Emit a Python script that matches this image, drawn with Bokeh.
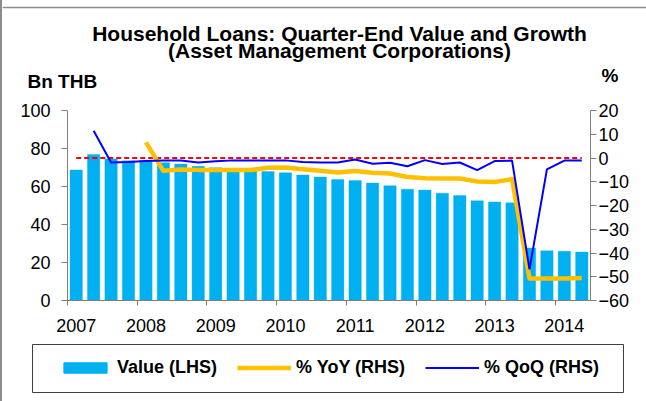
from bokeh.plotting import figure
from bokeh.layouts import column
from bokeh.models import (Range1d, LinearAxis, FixedTicker, Legend, LegendItem,
                          ColumnDataSource, NumeralTickFormatter)
from bokeh.core.properties import value
from bokeh.embed import file_html
from bokeh.resources import INLINE

# ---------------- data ----------------
quarters = ["2007Q1", "2007Q2", "2007Q3", "2007Q4",
            "2008Q1", "2008Q2", "2008Q3", "2008Q4",
            "2009Q1", "2009Q2", "2009Q3", "2009Q4",
            "2010Q1", "2010Q2", "2010Q3", "2010Q4",
            "2011Q1", "2011Q2", "2011Q3", "2011Q4",
            "2012Q1", "2012Q2", "2012Q3", "2012Q4",
            "2013Q1", "2013Q2", "2013Q3", "2013Q4",
            "2014Q1", "2014Q2"]
loan_value = [68.7, 76.8, 74.5, 73.5, 73.8, 72.5, 71.8, 70.6,
              69.9, 69.2, 68.6, 67.9, 67.2, 66.0, 65.0, 63.7,
              63.2, 61.8, 60.4, 58.6, 58.1, 56.5, 55.3, 52.5,
              51.9, 51.4, 27.6, 26.2, 25.9, 25.5]
nan = float("nan")
yoy_pct = [nan, nan, nan, nan,
           6.6, -5.4, -4.8, -5.0, -5.0, -5.0, -5.1, -4.1,
           -4.0, -4.7, -5.4, -6.1, -5.5, -6.2, -6.5, -8.0,
           -8.5, -8.6, -8.6, -9.9, -10.1, -8.9, -50.7, -50.7,
           -50.7, -50.5]
qoq_pct = [nan,
           11.5, -1.9, -1.7, -1.3, -1.1, -1.1, -1.9, -1.4,
           -1.0, -1.0, -1.1, -1.0, -1.7, -1.9, -1.9, -0.6,
           -2.4, -2.0, -3.5, -0.9, -2.5, -1.9, -5.1, -1.3,
           -1.1, -46.9, -4.8, -1.1, -1.1]
zero_ref = [0, 0]
years = [2007, 2008, 2009, 2010, 2011, 2012, 2013, 2014]
left_ticks = [0, 20, 40, 60, 80, 100]
right_ticks = [-60, -50, -40, -30, -20, -10, 0, 10, 20]

title_1 = "Household Loans: Quarter-End Value and Growth"
title_2 = "(Asset Management Corporations)"
left_unit = "Bn THB"
right_unit = "%"
series_names = ["Value (LHS)", "% YoY (RHS)", "% QoQ (RHS)"]

BAR_COL = "#00B0F0"
YOY_COL = "#FFC000"
QOQ_COL = "#0000FF"
FONT = "Liberation Sans"
AXIS_COL = "#808080"
W = 644  # column has a 2px left border


def no_align(fig):
    try:
        fig.frame_align = False
    except Exception as exc:  # older bokeh
        print("frame_align not available:", exc)


# quarter -> position in years (centre of quarter)
xpos = [int(q[:4]) + (int(q[-1]) - 0.5) / 4 for q in quarters]
src = ColumnDataSource(dict(x=xpos, value=loan_value, yoy=yoy_pct, qoq=qoq_pct))

# ---------------- header (titles) ----------------
hdr = figure(width=W, height=98, output_backend="svg", toolbar_location=None,
             x_range=Range1d(2, 646), y_range=Range1d(98, 0),
             x_axis_location=None, y_axis_location=None, min_border=0)
no_align(hdr)
hdr.xgrid.visible = False
hdr.ygrid.visible = False
hdr.outline_line_color = None
hdr.text(x=[339, 339], y=[32.5, 50], text=[title_1, title_2],
         text_align="center", text_baseline="alphabetic",
         text_font=value(FONT), text_font_style="bold",
         text_font_size="21px", text_color="black")
hdr.text(x=[27], y=[81], text=[left_unit], text_align="left",
         text_baseline="alphabetic", text_font=value(FONT),
         text_font_style="bold", text_font_size="19px", text_color="black")
hdr.text(x=[601], y=[75], text=[right_unit], text_align="left",
         text_baseline="alphabetic", text_font=value(FONT),
         text_font_style="bold", text_font_size="19px", text_color="black")
hdr.line(x=[2, 646], y=[7, 7], line_color="#8c8c8c", line_width=1.5)

# ---------------- main chart ----------------
p = figure(width=W, height=238, output_backend="svg", toolbar_location=None,
           x_range=Range1d(2007, 2014.5), y_range=Range1d(0, 100),
           x_axis_location=None, y_axis_location="left",
           min_border_left=65, min_border_right=56,
           min_border_top=12, min_border_bottom=36)
no_align(p)
p.extra_y_ranges = {"pct": Range1d(-60, 20)}
p.xgrid.visible = False
p.ygrid.visible = False
p.outline_line_color = None

la = p.yaxis[0]
la.ticker = FixedTicker(ticks=left_ticks)
la.major_tick_out = 6
la.major_tick_in = 0
la.minor_tick_out = 0
la.minor_tick_in = 0
la.axis_line_color = AXIS_COL
la.major_tick_line_color = AXIS_COL
la.major_label_standoff = 11
la.major_label_text_font = FONT
la.major_label_text_font_size = "18px"
la.major_label_text_color = "black"

ra = LinearAxis(y_range_name="pct", ticker=FixedTicker(ticks=right_ticks),
                major_tick_out=6, major_tick_in=0, minor_tick_out=0, minor_tick_in=0,
                axis_line_color=AXIS_COL, major_tick_line_color=AXIS_COL,
                major_label_standoff=2, major_label_text_font=FONT,
                major_label_text_font_size="18px", major_label_text_color="black")
p.add_layout(ra, "right")

# x axis: year labels centred on each year's first quarter,
# tick marks (minor ticks) at the year boundaries
xa = LinearAxis(ticker=FixedTicker(ticks=[y + 0.125 for y in years], minor_ticks=years),
                formatter=NumeralTickFormatter(format="0"),
                major_tick_out=0, major_tick_in=0,
                minor_tick_out=5, minor_tick_in=0,
                axis_line_color=AXIS_COL, minor_tick_line_color=AXIS_COL,
                major_label_standoff=13,
                major_label_text_font=FONT, major_label_text_font_size="18px",
                major_label_text_color="black")
p.add_layout(xa, "below")

p.vbar(x="x", top="value", width=0.1775, source=src,
       fill_color=BAR_COL, line_color=BAR_COL, line_alpha=0.35)
p.line(x=[xpos[0], xpos[-1]], y=zero_ref, y_range_name="pct",
       line_color="#FF0000", line_width=2, line_dash="5 3")
p.line(x="x", y="yoy", source=src, y_range_name="pct",
       line_color=YOY_COL, line_width=4.5, line_join="round")
p.line(x="x", y="qoq", source=src, y_range_name="pct",
       line_color=QOQ_COL, line_width=2)

# ---------------- footer (legend box) ----------------
ftr = figure(width=W, height=65, output_backend="svg", toolbar_location=None,
             x_range=Range1d(0, 1), y_range=Range1d(0, 1),
             x_axis_location=None, y_axis_location=None,
             min_border_left=30, min_border_right=23,
             min_border_top=8, min_border_bottom=9)
no_align(ftr)
ftr.xgrid.visible = False
ftr.ygrid.visible = False
ftr.outline_line_color = "#404040"
ftr.outline_line_width = 1
# legend proxies (NaN -> nothing drawn in the box itself)
proxy = ColumnDataSource(dict(x=[nan], y=[nan]))
lg_bar = ftr.vbar(x="x", top="y", width=0.1, source=proxy,
                  fill_color=BAR_COL, line_color=BAR_COL)
lg_yoy = ftr.line(x="x", y="y", source=proxy, line_color=YOY_COL, line_width=4.5)
lg_qoq = ftr.line(x="x", y="y", source=proxy, line_color=QOQ_COL, line_width=2)
legend = Legend(items=[LegendItem(label=series_names[0], renderers=[lg_bar]),
                       LegendItem(label=series_names[1], renderers=[lg_yoy]),
                       LegendItem(label=series_names[2], renderers=[lg_qoq])],
                orientation="horizontal", location=(12, 0), padding=14,
                spacing=20, glyph_width=54, glyph_height=13, label_standoff=5,
                label_text_font=FONT, label_text_font_style="bold",
                label_text_font_size="18px", label_text_color="black",
                border_line_alpha=0, background_fill_alpha=0, margin=0)
ftr.add_layout(legend)

layout = column(hdr, p, ftr, spacing=0,
                styles={"border-left": "2px solid #8c8c8c"})
open("out.html", "w").write(file_html(layout, INLINE))
